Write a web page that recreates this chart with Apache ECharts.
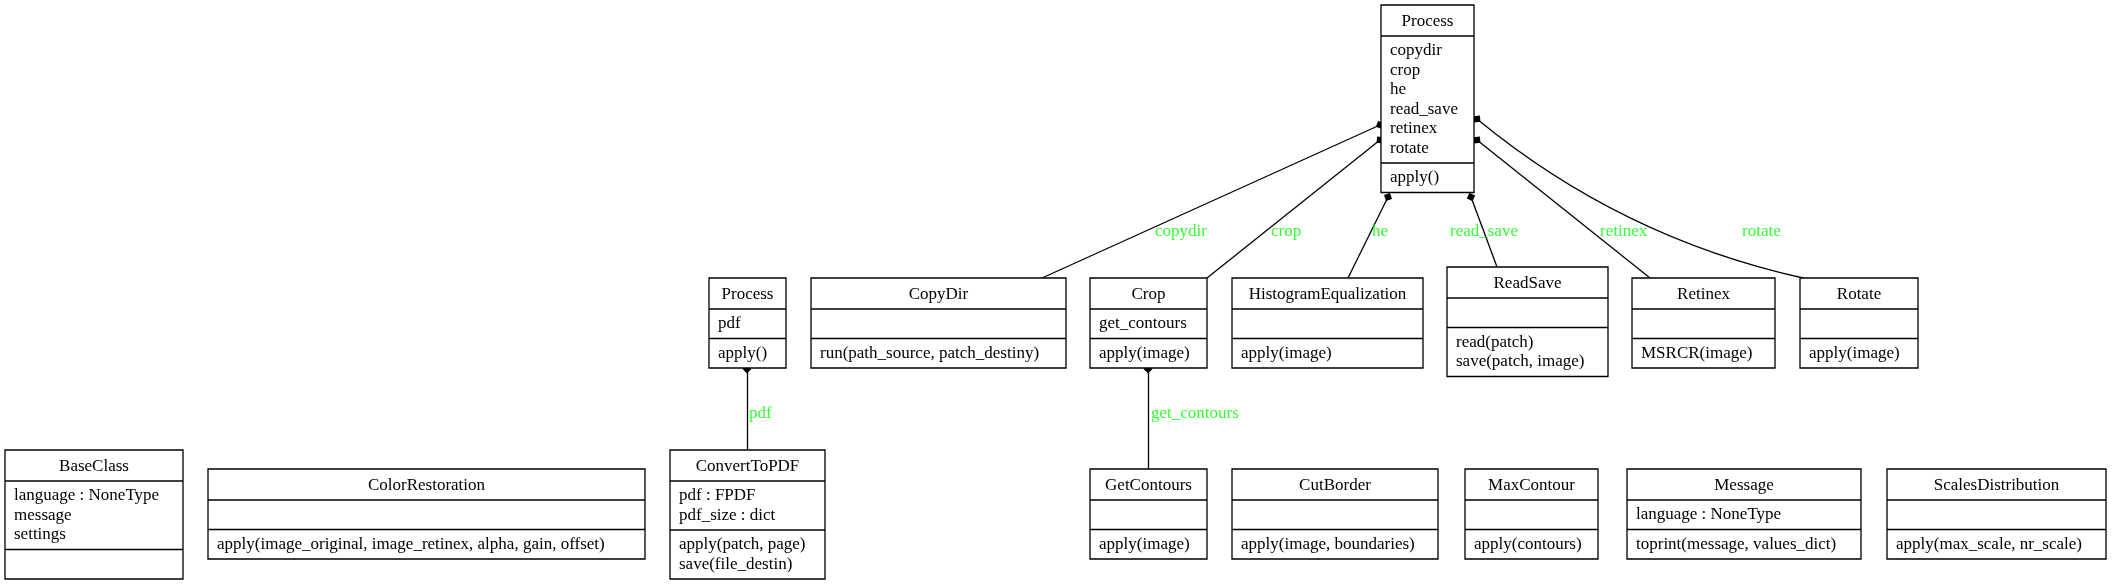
<!DOCTYPE html>
<html><head><meta charset="utf-8">
<script src="https://cdn.jsdelivr.net/npm/echarts@6/dist/echarts.min.js"></script>
<style>html,body{margin:0;padding:0;background:#fff}#container{width:2113px;height:588px}</style>
</head><body><div id="container"></div>
<script>
// class boxes: name, left, top, right, attributes, methods
var classNames = ['Process', 'Process', 'CopyDir', 'Crop', 'HistogramEqualization', 'ReadSave', 'Retinex', 'Rotate',
  'BaseClass', 'ColorRestoration', 'ConvertToPDF', 'GetContours', 'CutBorder', 'MaxContour', 'Message', 'ScalesDistribution'];
var boxLeft = [1381, 709, 811, 1090, 1232, 1447, 1632, 1800, 5, 208, 670, 1090, 1232, 1465, 1627, 1887];
var boxTop = [5, 278, 278, 278, 278, 267, 278, 278, 450, 469, 450, 469, 469, 469, 469, 469];
var boxRight = [1474, 786, 1066, 1207, 1423, 1608, 1775, 1918, 183, 645, 825, 1207, 1438, 1598, 1861, 2106];
var classAttrs = [
  ['copydir', 'crop', 'he', 'read_save', 'retinex', 'rotate'], ['pdf'], [], ['get_contours'], [], [], [], [],
  ['language : NoneType', 'message', 'settings'], [], ['pdf : FPDF', 'pdf_size : dict'], [], [], [], ['language : NoneType'], []
];
var classMethods = [
  ['apply()'], ['apply()'], ['run(path_source, patch_destiny)'], ['apply(image)'], ['apply(image)'], ['read(patch)', 'save(patch, image)'],
  ['MSRCR(image)'], ['apply(image)'], [], ['apply(image_original, image_retinex, alpha, gain, offset)'],
  ['apply(patch, page)', 'save(file_destin)'], ['apply(image)'], ['apply(image, boundaries)'], ['apply(contours)'],
  ['toprint(message, values_dict)'], ['apply(max_scale, nr_scale)']
];
// composition edges: from (whole, diamond end) to (part)
var edgeNames = ['copydir', 'crop', 'he', 'read_save', 'retinex', 'rotate', 'pdf', 'get_contours'];
var edgeFrom = [[1380, 125], [1380, 140], [1388, 197], [1471, 197], [1477, 140], [1477, 119], [747, 369], [1148, 369]];
var edgeTo = [[1042, 278], [1207, 278], [1348, 278], [1497, 267], [1650, 278], [1803, 278], [747, 450], [1148, 469]];
var edgeCurve = [0, 0, 0, 0, 0, -0.12, 0, 0];
var labelPos = [[1155, 232], [1271, 232], [1372, 232], [1450, 232], [1600, 232], [1742, 232], [749, 414], [1151, 414]];

var FONT = '"Liberation Serif", "DejaVu Serif", serif';
var HEAD = 31, LINE = 19.5;

var boxData = classNames.map(function (n, i) { return [boxLeft[i], boxTop[i], boxRight[i], i]; });

function renderBox(params, api) {
  var i = api.value(3);
  var p1 = api.coord([api.value(0), api.value(1)]);
  var p2 = api.coord([api.value(2), api.value(1)]);
  var x1 = p1[0], x2 = p2[0], y = p1[1];
  var attrs = classAttrs[i], meths = classMethods[i];
  var yA = y + HEAD;
  var yM = yA + Math.max(attrs.length, 1) * LINE + 10;
  var yB = yM + Math.max(meths.length, 1) * LINE + 10;
  var ls = { stroke: '#000', lineWidth: 1.3, fill: null };
  var ch = [
    { type: 'rect', shape: { x: x1, y: y, width: x2 - x1, height: yB - y }, style: { stroke: '#000', lineWidth: 1.3, fill: '#fff' } },
    { type: 'line', shape: { x1: x1, y1: yA, x2: x2, y2: yA }, style: ls },
    { type: 'line', shape: { x1: x1, y1: yM, x2: x2, y2: yM }, style: ls },
    { type: 'text', style: { x: (x1 + x2) / 2, y: y + HEAD / 2 + 1, text: classNames[i], fill: '#000',
      font: '17px ' + FONT, textAlign: 'center', textVerticalAlign: 'middle' } }
  ];
  attrs.forEach(function (t, k) {
    ch.push({ type: 'text', style: { x: x1 + 9, y: yA + 5 + LINE * k + LINE / 2, text: t, fill: '#000',
      font: '17px ' + FONT, textAlign: 'left', textVerticalAlign: 'middle' } });
  });
  meths.forEach(function (t, k) {
    ch.push({ type: 'text', style: { x: x1 + 9, y: yM + 5 + LINE * k + LINE / 2, text: t, fill: '#000',
      font: '17px ' + FONT, textAlign: 'left', textVerticalAlign: 'middle' } });
  });
  return { type: 'group', children: ch };
}

var myChart = echarts.init(document.getElementById('container'));
var option = {
  backgroundColor: '#FFFFFF',
  animation: false,
  grid: { left: 0, right: 0, top: 0, bottom: 0 },
  xAxis: { type: 'value', min: 0, max: 2113, show: false },
  yAxis: { type: 'value', min: 0, max: 588, inverse: true, show: false },
  series: [
    {
      type: 'lines', coordinateSystem: 'cartesian2d', z: 1,
      symbol: ['diamond', 'none'], symbolSize: [9, 20],
      lineStyle: { color: '#000', width: 1.3, opacity: 1 },
      data: edgeNames.map(function (n, i) {
        return { coords: [edgeFrom[i], edgeTo[i]], lineStyle: { curveness: edgeCurve[i] } };
      }),
      itemStyle: { color: '#000' }
    },
    {
      type: 'scatter', symbolSize: 0, z: 3,
      data: labelPos.map(function (p, i) { return { value: p, name: edgeNames[i] }; }),
      label: { show: true, position: 'right', distance: 0, formatter: '{b}', color: '#00ff00',
        fontFamily: FONT, fontSize: 17 }
    },
    {
      type: 'custom', z: 2, renderItem: renderBox, data: boxData
    }
  ]
};
myChart.setOption(option);
window.onresize = function () { myChart.resize(); };
</script></body></html>
